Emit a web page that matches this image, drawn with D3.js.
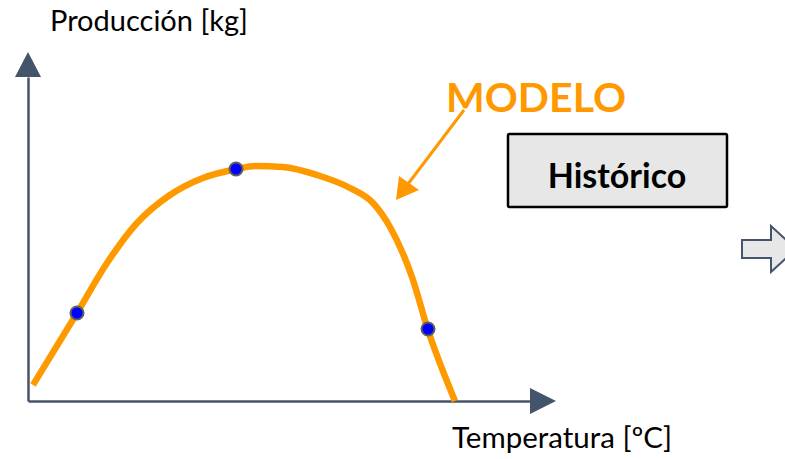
<!DOCTYPE html>
<html>
<head>
<meta charset="utf-8">
<script src="https://cdn.jsdelivr.net/npm/d3@7"></script>
<style>
  body { margin: 0; background: #fff; }
  svg { display: block; font-family: Lato, "Open Sans", sans-serif; }
</style>
</head>
<body>
<div id="chart"></div>
<script>
// model curve (temperature vs production, arbitrary units)
const temperature = [0.5, 4.9, 7.9, 10.9, 14.2, 17.5, 20.9, 22.7, 25.5, 28.9, 32.2, 34.5, 36.2, 38.4, 40.0, 42.7];
const production  = [1.6, 8.8, 13.8, 17.8, 20.6, 22.3, 23.2, 23.5, 23.4, 22.6, 21.3, 19.8, 17.4, 12.4, 7.1, 0.0];
// historical observations
const histTemp = [4.9, 20.8, 40.0];
const histProd = [8.8, 23.2, 7.2];

const xLabel = "Temperatura [ºC]";
const yLabel = "Producción [kg]";
const modelLabel = "MODELO";
const histLabel = "Histórico";

const width = 785, height = 459;
const axisColor = "#44546a";
const orange = "#ff9900";

const svg = d3.select("#chart").append("svg")
    .attr("width", width)
    .attr("height", height);

//----------------------------SCALES----------------------------//
const xScale = d3.scaleLinear().domain([0, 50.2]).range([28, 530]);
const yScale = d3.scaleLinear().domain([0, 32.4]).range([401, 77]);

//-----------------------------AXES-----------------------------//
const xaxis = d3.axisBottom(xScale).tickValues([]).tickSizeOuter(0);
const yaxis = d3.axisLeft(yScale).tickValues([]).tickSizeOuter(0);

svg.append("g")
    .attr("transform", "translate(0," + yScale(0) + ")")
    .call(xaxis)
    .select(".domain")
    .attr("stroke", axisColor)
    .attr("stroke-width", 2.5);

svg.append("g")
    .attr("transform", "translate(" + xScale(0) + ",0)")
    .call(yaxis)
    .select(".domain")
    .attr("stroke", axisColor)
    .attr("stroke-width", 2.5);

// arrow heads
const xEnd = xScale.range()[1], yEnd = yScale.range()[1];
svg.append("path")
    .attr("d", "M" + xEnd + "," + (yScale(0) - 13) + "L" + (xEnd + 26) + "," + yScale(0) + "L" + xEnd + "," + (yScale(0) + 13) + "Z")
    .attr("fill", axisColor);
svg.append("path")
    .attr("d", "M" + (xScale(0) - 13) + "," + yEnd + "L" + xScale(0) + "," + (yEnd - 25) + "L" + (xScale(0) + 13) + "," + yEnd + "Z")
    .attr("fill", axisColor);

svg.append("text")
    .attr("x", 50).attr("y", 31)
    .attr("font-size", 29)
    .attr("fill", "#000")
    .text(yLabel);

svg.append("text")
    .attr("x", 452).attr("y", 448)
    .attr("font-size", 29.5)
    .attr("fill", "#000")
    .text(xLabel);

//----------------------------LINE-----------------------------//
const model = temperature.map((t, i) => ({t: t, p: production[i]}));
const line = d3.line()
    .x(d => xScale(d.t))
    .y(d => yScale(d.p))
    .curve(d3.curveMonotoneX);

svg.append("path")
    .datum(model)
    .attr("d", line)
    .attr("fill", "none")
    .attr("stroke", orange)
    .attr("stroke-width", 6.5);

//----------------------------POINTS----------------------------//
svg.selectAll(".hist")
    .data(histTemp.map((t, i) => ({t: t, p: histProd[i]})))
    .enter()
    .append("circle")
    .attr("class", "hist")
    .attr("cx", d => xScale(d.t))
    .attr("cy", d => yScale(d.p))
    .attr("r", 6.5)
    .attr("fill", "#0000ff")
    .attr("stroke", "#5f5f5f")
    .attr("stroke-width", 2);

//----------------------------ANNOTATIONS-----------------------//
svg.append("text")
    .attr("x", 446).attr("y", 112)
    .attr("font-size", 41)
    .attr("font-weight", "bold")
    .attr("fill", orange)
    .text(modelLabel);

svg.append("line")
    .attr("x1", 464).attr("y1", 110)
    .attr("x2", 408).attr("y2", 184)
    .attr("stroke", orange)
    .attr("stroke-width", 3);
svg.append("path")
    .attr("d", "M396,200L399,176L419,190Z")
    .attr("fill", orange);

svg.append("rect")
    .attr("x", 508).attr("y", 134)
    .attr("width", 219).attr("height", 73)
    .attr("fill", "#e7e7e7")
    .attr("stroke", "#000")
    .attr("stroke-width", 2.5)
    .attr("rx", 1.5);

svg.append("text")
    .attr("x", 617).attr("y", 188)
    .attr("text-anchor", "middle")
    .attr("font-size", 34)
    .attr("font-weight", "bold")
    .attr("fill", "#000")
    .text(histLabel);

// block arrow at the right edge
svg.append("path")
    .attr("d", "M742,240L771,240L771,226L796,249L771,272L771,258L742,258Z")
    .attr("fill", "#e7e7e7")
    .attr("stroke", axisColor)
    .attr("stroke-width", 2);
</script>
</body>
</html>
